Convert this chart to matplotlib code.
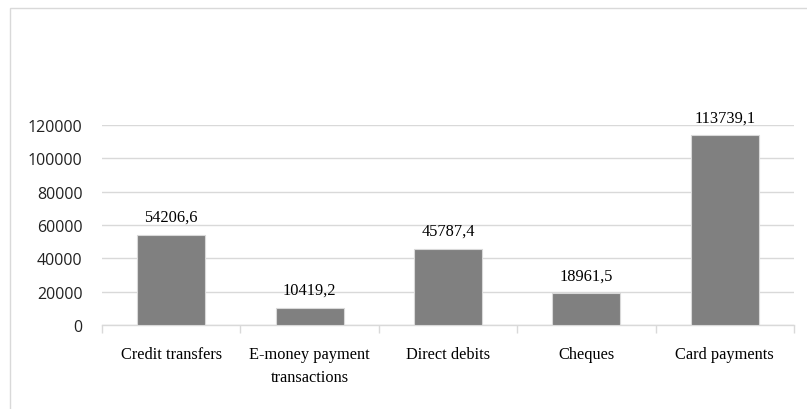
import matplotlib
matplotlib.use("Agg")
import matplotlib.pyplot as plt
from matplotlib.patches import Rectangle

categories = ["Credit transfers", "E-money payment\ntransactions", "Direct debits", "Cheques", "Card payments"]
values = [54206.6, 10419.2, 45787.4, 18961.5, 113739.1]
value_labels = ["54206,6", "10419,2", "45787,4", "18961,5", "113739,1"]
yticks = [0, 20000, 40000, 60000, 80000, 100000, 120000]

fig = plt.figure(figsize=(8.07, 4.10), dpi=100)
fig.patches.append(Rectangle((10/807, -0.05), 1.1, 1.05 - 9/410, transform=fig.transFigure,
                             fill=False, edgecolor="#d9d9d9", linewidth=1.0))

ax = fig.add_axes([102/807, 84/410, 692/807, 200/410])
x = list(range(len(categories)))
ax.bar(x, values, width=0.49, color="#808080", edgecolor="#d9d9d9", linewidth=0.8, zorder=3)

for xi, v, lab in zip(x, values, value_labels):
    ax.annotate(lab, (xi, v), xytext=(0, 7), textcoords="offset points",
                ha="center", va="bottom", fontsize=11.8,
                family="Liberation Serif", color="#000000")

ax.set_xlim(-0.5, len(categories) - 0.5)
ax.set_ylim(0, 120000)
ax.set_yticks(yticks)
ax.set_yticklabels([str(t) for t in yticks], fontsize=11.5, family="Open Sans", color="#222222")
ax.yaxis.grid(True, color="#d9d9d9", linewidth=1.0, zorder=0)
ax.tick_params(axis="y", length=0, pad=14)

ax.set_xticks(x)
ax.set_xticklabels(categories, fontsize=11.8, family="Liberation Serif", color="#000000", linespacing=1.6)
ax.tick_params(axis="x", length=0, pad=15)
ax.set_xticks([i - 0.5 for i in range(len(categories) + 1)], minor=True)
ax.tick_params(axis="x", which="minor", length=6, color="#d9d9d9", width=1.0)

for s in ["left", "right", "top"]:
    ax.spines[s].set_visible(False)
ax.spines["bottom"].set_color("#d9d9d9")
ax.spines["bottom"].set_linewidth(1.0)

fig.savefig("out.png", dpi=100)
